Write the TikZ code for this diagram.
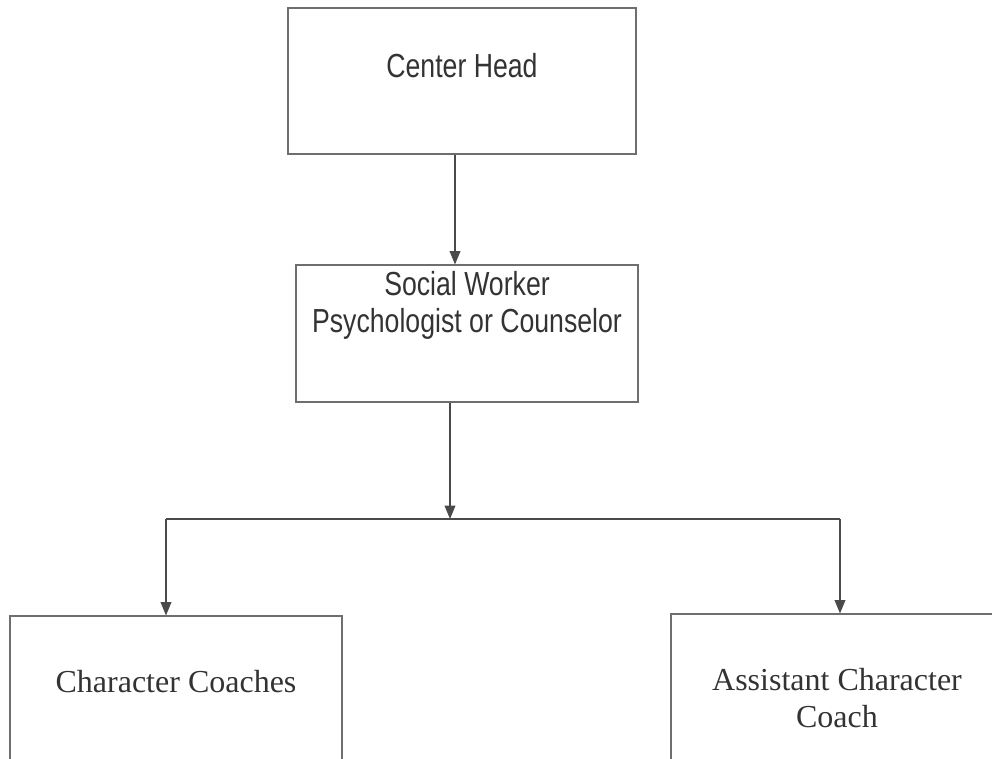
\documentclass[tikz,border=0pt]{standalone}
\usepackage{fontspec}
\setmainfont{Liberation Serif}
\newfontfamily\arialfont[FakeStretch=0.8]{Liberation Sans}
\usepackage{tikz}
\usetikzlibrary{arrows.meta, positioning, calc}
\definecolor{inkline}{HTML}{4A4A4A}
\definecolor{boxline}{HTML}{6E6E6E}
\definecolor{inktext}{HTML}{333333}
\tikzset{
  topbox/.style = {draw=boxline, line width=0.8pt, align=center, text=inktext,
                   font=\arialfont\fontsize{25}{28}\selectfont, inner sep=0pt},
  lowbox/.style = {draw=boxline, line width=0.8pt, align=center, text=inktext,
                   font=\fontsize{24}{27.75}\selectfont, inner sep=0pt,
                   minimum width=249pt, minimum height=109.5pt},
  fl/.style     = {-{Triangle[length=10pt, width=8pt]}, draw=inkline, line width=1pt},
  ln/.style     = {draw=inkline, line width=1pt},
}
\begin{document}
\begin{tikzpicture}[x=0.75pt, y=-0.75pt]
  \useasboundingbox (0,0) rectangle (992,758);
  \clip (0,0) rectangle (992,758);
  \node[topbox, minimum width=261pt, minimum height=109.5pt,
        text height=18pt, text depth=24pt] (head) at (462,81) {Center Head};
  \node[topbox, minimum width=256.5pt, minimum height=102.75pt,
        text height=43pt, text depth=44pt] (sw) at (467,333.5)
        {Social Worker\\Psychologist or Counselor};
  \node[lowbox, text height=16pt, text depth=11.5pt] (cc) at (176,689)
        {Character Coaches};
  \node[lowbox, text height=60pt, text depth=0pt] (ac) at (837,687)
        {Assistant Character\\Coach};
  % branch points
  \coordinate (j)  at (450,519);
  \coordinate (jl) at (166,519);
  \coordinate (jr) at (840,519);
  \draw[fl] ([xshift=-5.25pt]head.south) -- ([xshift=-5.25pt]head.south |- sw.north);
  \draw[fl] (sw.south -| j) -- (j);
  \draw[ln] (jl) -- (jr);
  \draw[fl] (jl) -- (jl |- cc.north);
  \draw[fl] (jr) -- (jr |- ac.north);
\end{tikzpicture}
\end{document}
